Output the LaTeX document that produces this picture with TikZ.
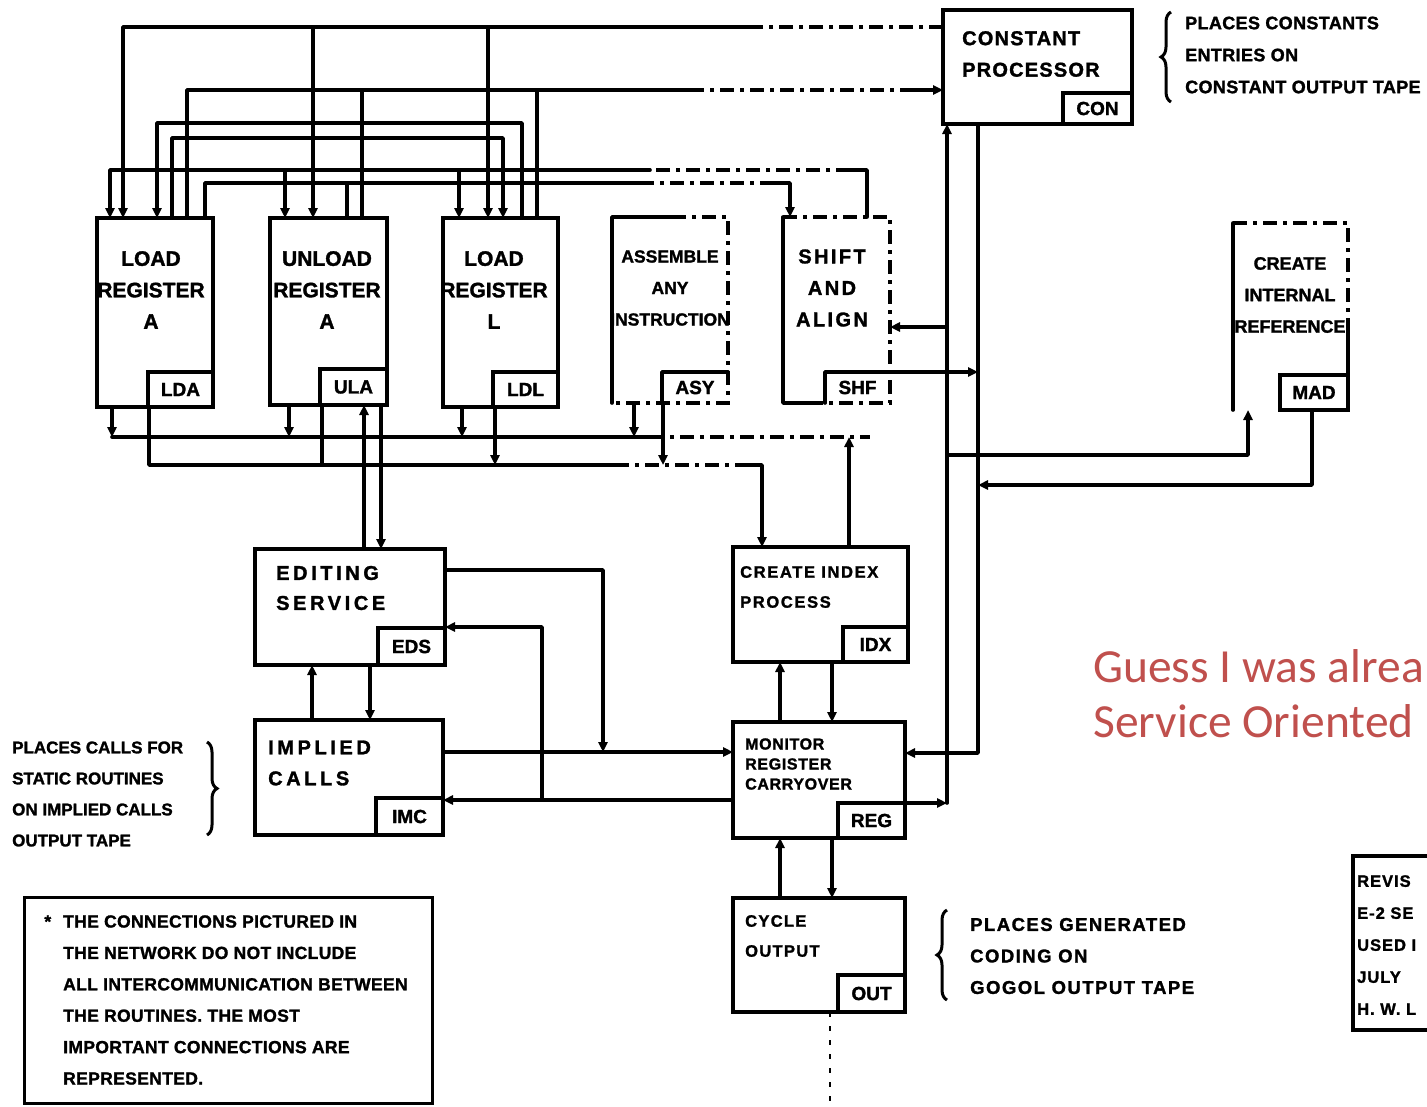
\documentclass[tikz,border=0pt]{standalone}
\usepackage{fontspec}
\setmainfont{Liberation Sans}[BoldFeatures={FakeBold=1.5}]
\newfontfamily\calib{Carlito}
\usetikzlibrary{arrows.meta,decorations.pathreplacing,calc}
\definecolor{inkred}{HTML}{C0504D}
\newcommand\hwf[2]{\bfseries\fontsize{#1}{#2}\selectfont}
\newcommand\hwls[3]{\bfseries\addfontfeature{LetterSpace=#3}\fontsize{#1}{#2}\selectfont}
\tikzset{
  wire/.style={line width=3.6pt, line cap=round, line join=round},
  faint/.style={line width=3.2pt, dash pattern=on 14pt off 6pt on 4pt off 6pt},
  arr/.style={-{Triangle[length=10pt,width=9pt]}},
  box/.style={draw, line width=3.8pt, inner sep=0pt, outer sep=0pt},
  dbox/.style={draw=none, inner sep=0pt, outer sep=0pt},
  sub/.style={draw, line width=3.6pt, inner sep=0pt, outer sep=0pt, font={\hwf{19}{20}}},
  title/.style={inner sep=0pt, align=center, font={\hwf{21}{31.5}}},
  annot/.style={inner sep=0pt, align=left, anchor=west, font={\hwf{18}{31.5}}},
  brc/.style={line width=3pt, decorate, decoration={brace, amplitude=10pt}},
}
\begin{document}
\begin{tikzpicture}[x=1pt,y=-1pt]
\useasboundingbox (0,0) rectangle (1427,1106);
\fill[white] (0,0) rectangle (1427,1106);

% ---------- boxes ----------
\node[box, minimum width=116pt, minimum height=189pt] (lda) at (155,312.5) {};
\node[sub, minimum width=65pt, minimum height=35pt, anchor=south east] (ldaS) at (lda.south east) {LDA};
\node[box, minimum width=117pt, minimum height=187pt] (ula) at (328.5,311.5) {};
\node[sub, minimum width=67pt, minimum height=36pt, anchor=south east] (ulaS) at (ula.south east) {ULA};
\node[box, minimum width=115pt, minimum height=189pt] (ldl) at (500.5,312.5) {};
\node[sub, minimum width=65pt, minimum height=35pt, anchor=south east] (ldlS) at (ldl.south east) {LDL};

\node[dbox, minimum width=116pt, minimum height=186pt] (asy) at (670,310) {};
\draw[wire] (asy.south west) -- (asy.north west) -- ++(60,0);
\draw[faint] ($(asy.north west)+(60,0)$) -- (asy.north east) -- (asy.south east) -- (asy.south west);
\node[dbox, minimum width=66pt, minimum height=31pt, anchor=south east, font={\hwf{19}{20}}] (asyS) at (asy.south east) {ASY};
\draw[wire] (asyS.south west) -- (asyS.north west) -- (asyS.north east);

\node[dbox, minimum width=107pt, minimum height=186pt] (shf) at (836.5,310) {};
\draw[wire] (shf.north west) -- (shf.south west) -- ++(30,0);
\draw[faint] (shf.north west) -- (shf.north east) -- (shf.south east) -- ($(shf.south west)+(30,0)$);
\node[dbox, minimum width=65pt, minimum height=31pt, anchor=south east, font={\hwf{19}{20}}] (shfS) at (shf.south east) {SHF};
\draw[wire] (shfS.south west) -- (shfS.north west) -- (shfS.north east);

\node[box, minimum width=189pt, minimum height=114pt] (con) at (1037.5,67) {};
\node[sub, minimum width=69pt, minimum height=31pt, anchor=south east] (conS) at (con.south east) {CON};

\node[dbox, minimum width=115pt, minimum height=187pt] (mad) at (1290.5,316.5) {};
\draw[wire] (mad.north west) -- (mad.south west);
\draw[faint] (mad.north west) -- (mad.north east) -- ++(0,100);
\draw[wire] ($(mad.north east)+(0,100)$) -- (mad.south east) -- ++(-68,0);
\node[sub, minimum width=68pt, minimum height=35pt, anchor=south east] (madS) at (mad.south east) {MAD};

\node[box, minimum width=190pt, minimum height=116pt] (eds) at (350,607) {};
\node[sub, minimum width=67pt, minimum height=37pt, anchor=south east] (edsS) at (eds.south east) {EDS};
\node[box, minimum width=188pt, minimum height=115pt] (imc) at (349,777.5) {};
\node[sub, minimum width=67pt, minimum height=37pt, anchor=south east] (imcS) at (imc.south east) {IMC};
\node[box, minimum width=175pt, minimum height=115pt] (idx) at (820.5,604.5) {};
\node[sub, minimum width=65pt, minimum height=35pt, anchor=south east] (idxS) at (idx.south east) {IDX};
\node[box, minimum width=172pt, minimum height=116pt] (reg) at (819,780) {};
\node[sub, minimum width=67pt, minimum height=35pt, anchor=south east] (regS) at (reg.south east) {REG};
\node[box, minimum width=172pt, minimum height=114pt] (out) at (819,955) {};
\node[sub, minimum width=67pt, minimum height=37pt, anchor=south east] (outS) at (out.south east) {OUT};

% ---------- titles ----------
\node[title] (ldaT) at (151,290) {LOAD\\REGISTER\\A};
\node[title] (ulaT) at (327,290) {UNLOAD\\REGISTER\\A};
\node[title] (ldlT) at (494,290) {LOAD\\REGISTER\\L};
\node[title, font={\hwf{17.5}{31.5}}] (asyT) at (670,288) {ASSEMBLE\\ANY\\INSTRUCTION};
\node[title, font={\hwls{20}{31.5}{12}}] (shfT) at (832,288) {SHIFT\\AND\\ALIGN};
\node[title, align=left, anchor=west, font={\hwls{20}{31.5}{6}}] (conT) at (962,54) {CONSTANT\\PROCESSOR};
\node[title, font={\hwf{18}{31.5}}] (madT) at (1290,295) {CREATE\\INTERNAL\\REFERENCE};
\node[title, align=left, anchor=west, font={\hwls{20}{30}{18}}] (edsT) at (276,588) {EDITING\\SERVICE};
\node[title, align=left, anchor=west, font={\hwls{20}{31}{18}}] (imcT) at (268,763) {IMPLIED\\CALLS};
\node[title, align=left, anchor=west, font={\hwls{16.5}{30}{10}}] (idxT) at (740,587) {CREATE INDEX\\PROCESS};
\node[title, align=left, anchor=west, font={\hwls{16}{20}{4}}] (regT) at (745,764) {MONITOR\\REGISTER\\CARRYOVER};
\node[title, align=left, anchor=west, font={\hwls{16.5}{30}{8}}] (outT) at (745,936) {CYCLE\\OUTPUT};

% ---------- annotations ----------
\draw[brc] (1171,102) -- (1171,12);
\node[annot, font={\hwls{18}{32}{2}}] (conA) at (1185,55) {PLACES CONSTANTS\\ENTRIES ON\\CONSTANT OUTPUT TAPE};
\draw[brc] (207,742) -- (207,835);
\node[annot, font={\hwf{17}{31}}] (imcA) at (12,794) {PLACES CALLS FOR\\STATIC ROUTINES\\ON IMPLIED CALLS\\OUTPUT TAPE};
\draw[brc] (947,1000) -- (947,910);
\node[annot, font={\hwls{18.5}{31.5}{8}}] (outA) at (970,956) {PLACES GENERATED\\CODING ON\\GOGOL OUTPUT TAPE};

\node[draw, line width=3pt, minimum width=408pt, minimum height=206pt, inner sep=0pt] (note) at (228,1000) {};
\node[annot, font={\hwls{17.5}{31.4}{2}}] (noteT) at (63,1000) {\llap{*\hspace{12pt}}THE CONNECTIONS PICTURED IN\\THE NETWORK DO NOT INCLUDE\\ALL INTERCOMMUNICATION BETWEEN\\THE ROUTINES. THE MOST\\IMPORTANT CONNECTIONS ARE\\REPRESENTED.};

\draw[line width=3.4pt] (1427,856) -- (1353,856) -- (1353,1030) -- (1427,1030);
\node[annot, font={\hwls{16.5}{32}{6}}] (revT) at (1357,945) {REVIS\\E-2 SE\\USED I\\JULY\\H. W. L};

\node[inner sep=0pt, anchor=west, align=left, text=inkred, font={\calib\fontsize{47.5}{55}\selectfont}] (remark) at (1093,694) {Guess I was alrea\\Service Oriented};

% ---------- top wiring ----------
% W1: CON -> registers
\draw[faint] (con.west |- 0,27) -- (760,27);
\draw[wire,arr] (760,27) -- (123,27) -- (123,0 |- lda.north);
\draw[wire,arr] (313,27) -- (313,0 |- ula.north);
\draw[wire,arr] (488,27) -- (488,0 |- ldl.north);
% W2: registers -> CON
\draw[wire] (187,0 |- lda.north) -- (187,90) -- (690,90);
\draw[faint] (690,90) -- (905,90);
\draw[wire,arr] (905,90) -- (con.west |- 0,90);
\draw[wire] (362,0 |- ula.north) -- (362,90);
\draw[wire] (537,0 |- ldl.north) -- (537,90);
% W3: LDL -> LDA
\draw[wire,arr] (522,0 |- ldl.north) -- (522,123) -- (157,123) -- (157,0 |- lda.north);
% W4: LDA -> LDL
\draw[wire,arr] (172,0 |- lda.north) -- (172,138) -- (503,138) -- (503,0 |- ldl.north);
% W5: SHF -> registers
\draw[wire] (867,0 |- shf.north) -- (867,170) -- (850,170);
\draw[faint] (850,170) -- (650,170);
\draw[wire,arr] (650,170) -- (110,170) -- (110,0 |- lda.north);
\draw[wire,arr] (285,170) -- (285,0 |- ula.north);
\draw[wire,arr] (459,170) -- (459,0 |- ldl.north);
% W6: registers -> SHF
\draw[wire] (205,0 |- lda.north) -- (205,183) -- (640,183);
\draw[faint] (640,183) -- (770,183);
\draw[wire,arr] (770,183) -- (790,183) -- (790,0 |- shf.north);
\draw[wire] (347,0 |- ula.north) -- (347,183);

% ---------- buses under the top row ----------
\draw[wire] (112,437) -- (650,437);
\draw[faint] (650,437) -- (870,437);
\draw[wire,arr] (112,0 |- lda.south) -- (112,437);
\draw[wire,arr] (289,0 |- ula.south) -- (289,437);
\draw[wire,arr] (462,0 |- ldl.south) -- (462,437);
\draw[wire,arr] (634,0 |- asy.south) -- (634,437);
\draw[wire,arr] (849,0 |- idx.north) -- (849,437);

\draw[wire] (149,0 |- lda.south) -- (149,465) -- (615,465);
\draw[faint] (615,465) -- (745,465);
\draw[wire,arr] (745,465) -- (762,465) -- (762,0 |- idx.north);
\draw[wire] (322,0 |- ula.south) -- (322,465);
\draw[wire,arr] (495,0 |- ldl.south) -- (495,465);
\draw[wire,arr] (663,0 |- asy.south) -- (663,465);

% ---------- lower left ----------
\draw[wire,arr] (364,0 |- eds.north) -- (364,0 |- ula.south);
\draw[wire,arr] (381,0 |- ula.south) -- (381,0 |- eds.north);
\draw[wire,arr] (312,0 |- imc.north) -- (312,0 |- eds.south);
\draw[wire,arr] (370,0 |- eds.south) -- (370,0 |- imc.north);
\draw[wire,arr] (eds.east |- 0,570) -- (603,570) -- (603,752);
\draw[wire,arr] (imc.east |- 0,752) -- (reg.west |- 0,752);
\draw[wire,arr] (reg.west |- 0,800) -- (imc.east |- 0,800);
\draw[wire,arr] (542,800) -- (542,627) -- (eds.east |- 0,627);

% ---------- middle column ----------
\draw[wire,arr] (780,0 |- reg.north) -- (780,0 |- idx.south);
\draw[wire,arr] (832,0 |- idx.south) -- (832,0 |- reg.north);
\draw[wire,arr] (780,0 |- out.north) -- (780,0 |- reg.south);
\draw[wire,arr] (832,0 |- reg.south) -- (832,0 |- out.north);
\draw[line width=2.6pt, dash pattern=on 5pt off 9pt] (830,0 |- out.south) -- (830,1106);

% ---------- right buses ----------
\draw[wire,arr] (947,803) -- (947,0 |- con.south);
\draw[wire,arr] (947,327) -- (shf.east |- 0,327);
\draw[wire,arr] (947,455) -- (1248,455) -- (1248,0 |- mad.south);
\draw[wire,arr] (reg.east |- 0,803) -- (947,803);
\draw[wire,arr] (978,0 |- con.south) -- (978,753) -- (reg.east |- 0,753);
\draw[wire,arr] (shf.east |- 0,372) -- (978,372);
\draw[wire,arr] (1312,0 |- mad.south) -- (1312,485) -- (978,485);
\end{tikzpicture}
\end{document}
